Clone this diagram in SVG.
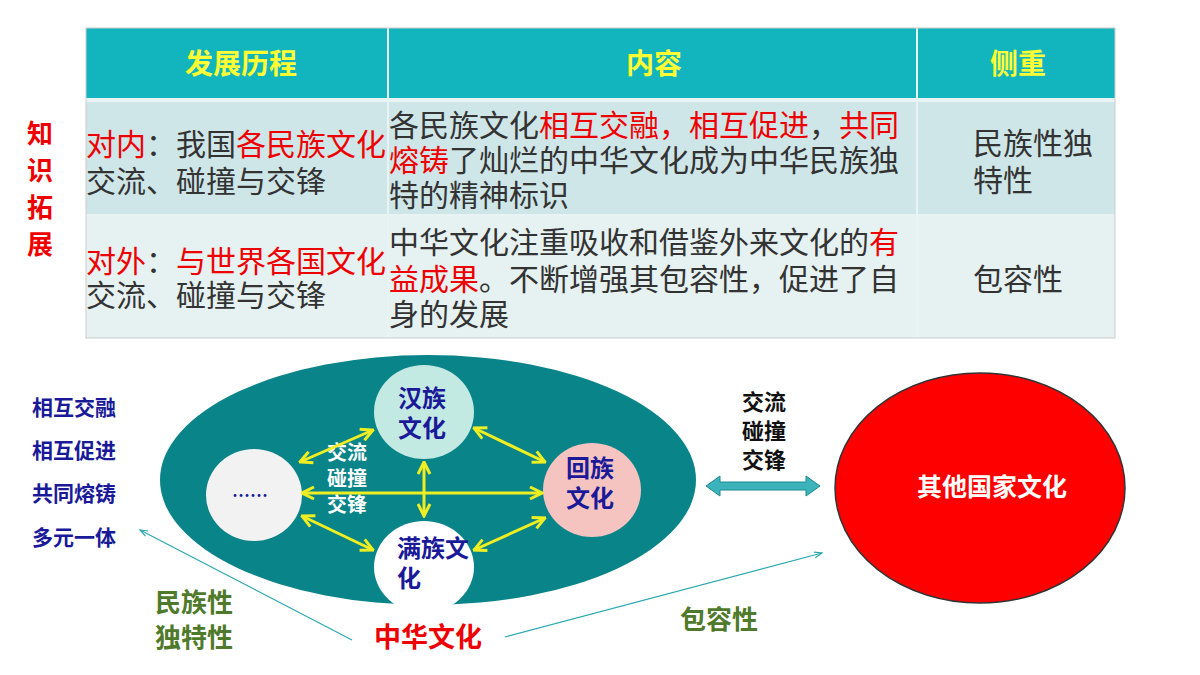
<svg xmlns="http://www.w3.org/2000/svg" width="1200" height="675" viewBox="0 0 1200 675">
<style>
text{font-family:"Noto Sans CJK SC","Noto Sans",sans-serif}
.h{font-size:28px;font-weight:bold;fill:#ffff33}
.c{font-size:30px;fill:#333}
.r{fill:#e00}
.nd{font-size:24px;font-weight:bold;fill:#1a1a99}
.ya{stroke:#eeee22;stroke-width:3;fill:none;marker-start:url(#ya);marker-end:url(#ya)}
</style>
<defs>
<marker id="ya" viewBox="0 0 10 10" refX="9" refY="5" markerWidth="5" markerHeight="5" orient="auto-start-reverse"><path d="M1,1 L9,5 L1,9" fill="none" stroke="#eeee22" stroke-width="2"/></marker>
<marker id="ta" viewBox="0 0 10 10" refX="9" refY="5" markerWidth="8" markerHeight="8" orient="auto"><path d="M1,2 L9,5 L1,8" fill="none" stroke="#2aa7b0" stroke-width="1.2"/></marker>
</defs>
<rect width="1200" height="675" fill="#fff"/>
<g id="side" font-size="26" font-weight="bold" fill="#e00" text-anchor="middle"><text x="40" y="143">知</text><text x="40" y="180">识</text><text x="40" y="217">拓</text><text x="40" y="254">展</text></g>
<g id="table">
<rect x="86" y="28" width="1029" height="72" fill="#12b5bd"/>
<rect x="86" y="100" width="1029" height="115" fill="#cfe6e8"/>
<rect x="86" y="215" width="1029" height="123" fill="#e6f1f2"/>
<g stroke="#e8f3f3" stroke-width="2"><line x1="388" y1="28" x2="388" y2="338"/><line x1="917" y1="28" x2="917" y2="338"/><line x1="86" y1="100" x2="1115" y2="100" stroke-width="4"/><line x1="86" y1="215" x2="1115" y2="215"/></g>
<rect x="86" y="28" width="1029" height="310" fill="none" stroke="#ccc"/>
<text class="h" x="241" y="74" text-anchor="middle">发展历程</text>
<text class="h" x="654" y="74" text-anchor="middle">内容</text>
<text class="h" x="1018" y="74" text-anchor="middle">侧重</text>
<text class="c" x="86" y="155"><tspan class="r">对内</tspan>：我国<tspan class="r">各民族文化</tspan></text>
<text class="c" x="86" y="192">交流、碰撞与交锋</text>
<text class="c" x="389" y="136">各民族文化<tspan class="r">相互交融，相互促进</tspan>，<tspan class="r">共同</tspan></text>
<text class="c" x="389" y="171"><tspan class="r">熔铸</tspan>了灿烂的中华文化成为中华民族独</text>
<text class="c" x="389" y="206">特的精神标识</text>
<text class="c" x="973" y="154">民族性独</text>
<text class="c" x="973" y="191">特性</text>
<text class="c" x="86" y="272"><tspan class="r">对外</tspan>：<tspan class="r">与世界各国文化</tspan></text>
<text class="c" x="86" y="306">交流、碰撞与交锋</text>
<text class="c" x="389" y="253">中华文化注重吸收和借鉴外来文化的<tspan class="r">有</tspan></text>
<text class="c" x="389" y="290"><tspan class="r">益成果</tspan>。不断增强其包容性，促进了自</text>
<text class="c" x="389" y="325">身的发展</text>
<text class="c" x="973" y="290">包容性</text>
</g>
<g id="list" font-size="21" font-weight="bold" fill="#1a1a99"><text x="32" y="415">相互交融</text><text x="32" y="458">相互促进</text><text x="32" y="501">共同熔铸</text><text x="32" y="545">多元一体</text></g>
<g id="zhonghua"><ellipse cx="428" cy="480" rx="268" ry="125" fill="#098488"/>
<text x="428" y="647" font-size="27" font-weight="bold" fill="#e00" text-anchor="middle">中华文化</text></g>
<g id="han"><ellipse cx="424" cy="412" rx="50" ry="47" fill="#c3e9e3"/><text class="nd" x="422" y="407" text-anchor="middle">汉族</text><text class="nd" x="422" y="437" text-anchor="middle">文化</text></g>
<g id="hui"><ellipse cx="592" cy="490" rx="49" ry="47" fill="#f5c3c0"/><text class="nd" x="590" y="477" text-anchor="middle">回族</text><text class="nd" x="590" y="507" text-anchor="middle">文化</text></g>
<g id="etc"><ellipse cx="254" cy="495" rx="48" ry="46" fill="#f2f2f2"/><text x="250" y="502" font-size="18" font-weight="bold" fill="#1a1a99" text-anchor="middle">……</text></g>
<g id="man"><ellipse cx="424" cy="567" rx="50" ry="46" fill="#fff"/><text class="nd" x="397" y="557">满族文</text><text class="nd" x="397" y="587">化</text></g>
<g id="lbl" font-size="20" font-weight="bold" fill="#fff" text-anchor="middle"><text x="347" y="460">交流</text><text x="347" y="486">碰撞</text><text x="347" y="512">交锋</text></g>
<g id="other"><ellipse cx="980" cy="488" rx="145" ry="115" fill="#ff0000" stroke="#333" stroke-width="1.5"/><text x="992" y="496" font-size="25" font-weight="bold" fill="#fff" text-anchor="middle">其他国家文化</text></g>
<g id="ext" font-size="22" font-weight="bold" fill="#111" text-anchor="middle"><text x="764" y="410">交流</text><text x="764" y="439">碰撞</text><text x="764" y="468">交锋</text></g>
<g id="chars" font-size="26" font-weight="bold" fill="#4f7a2c"><text x="155" y="612">民族性</text><text x="155" y="647">独特性</text><text x="680" y="629">包容性</text></g>
<g id="connectors">
<line class="ya" x1="300" y1="462" x2="373" y2="430"/>
<line class="ya" x1="474" y1="428" x2="545" y2="462"/>
<line class="ya" x1="302" y1="493" x2="542" y2="493"/>
<line class="ya" x1="424" y1="462" x2="424" y2="516"/>
<line class="ya" x1="302" y1="516" x2="373" y2="550"/>
<line class="ya" x1="545" y1="518" x2="474" y2="550"/>
<path d="M706,486 L720,476 L720,482 L806,482 L806,476 L820,486 L806,496 L806,490 L720,490 L720,496 Z" fill="#3cb3bb" stroke="#1a8a90"/>
<line x1="352" y1="640" x2="140" y2="530" stroke="#2aa7b0" stroke-width="1.2" marker-end="url(#ta)"/>
<line x1="505" y1="637" x2="822" y2="553" stroke="#2aa7b0" stroke-width="1.2" marker-end="url(#ta)"/>
</g>
</svg>
